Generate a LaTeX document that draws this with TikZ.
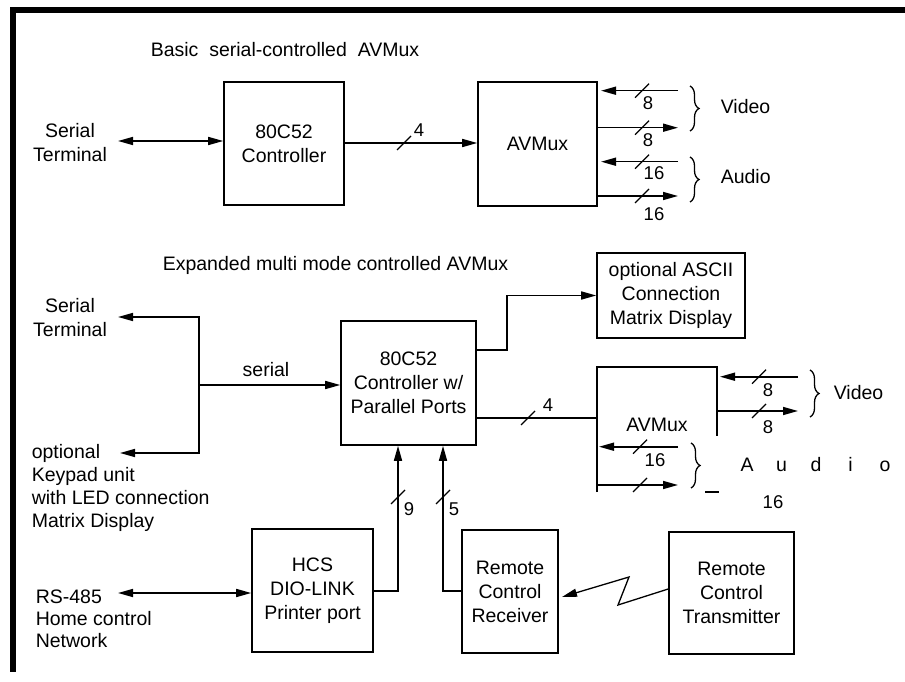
\documentclass[tikz,border=0pt]{standalone}
\usepackage{fontspec}
\setmainfont{Liberation Sans}
\usetikzlibrary{arrows.meta,decorations.pathreplacing}
\begin{document}
\begin{tikzpicture}[x=1pt,y=-1pt,
  line width=1.6pt,
  every node/.style={font=\fontsize{19.5}{24}\selectfont, inner sep=0pt},
  box/.style={draw, line width=1.6pt, align=center},
  arr/.style={-{Triangle[length=15pt,width=8pt]}},
  darr/.style={{Triangle[length=15pt,width=8pt]}-{Triangle[length=15pt,width=8pt]}},
  num/.style={font=\fontsize{18.5}{22}\selectfont},
  brc/.style={decorate, decoration={brace, amplitude=9pt}, line width=1.3pt},
  busslash/.pic={\draw[line width=1.3pt] (-7,7) -- (7,-7);}
]
\useasboundingbox (0,0) rectangle (905,682);
% frame
\fill (10,7.5) rectangle (905,13.5);
\fill (10,7.5) rectangle (16,672);

% ---------------- top section ----------------
\node[anchor=west] (t1) at (150,50) {Basic\ \ serial-controlled\ \ AVMux};
\node[align=center] (st1) at (70,143) {Serial\\Terminal};
\node[box, minimum width=120pt, minimum height=123pt] (ctrl1) at (284,143.5) {80C52\\Controller};
\node[box, minimum width=119pt, minimum height=124pt] (avm1) at (537.5,144) {AVMux};

\coordinate (st1e) at (118,141);
\draw[darr] (st1e) -- (ctrl1.west |- st1e);
\draw[arr] (ctrl1.east |- 0,143) -- (avm1.west |- 0,143);
\pic at (404,143) {busslash};
\node[num] (n4a) at (419,130) {4};

\coordinate (v1a) at (678,90.7);  \coordinate (v1ai) at (601,90.7);
\coordinate (v1b) at (678,127.7);
\coordinate (a1a) at (678,161.7); \coordinate (a1ai) at (601,161.7);
\coordinate (a1b) at (678,196);
\draw[arr] (v1a) -- (v1ai);
\draw[arr] (avm1.east |- v1b) -- (v1b);
\draw[arr] (a1a) -- (a1ai);
\draw[arr] (avm1.east |- a1b) -- (a1b);
\pic at (642,90.7) {busslash};
\pic at (642,127.7) {busslash};
\pic at (642,161.7) {busslash};
\pic at (642,196) {busslash};
\node[num] (n8a) at (648,103) {8};
\node[num] (n8b) at (648,140) {8};
\node[num] (n16a) at (654,173) {16};
\node[num] (n16b) at (654,214) {16};
\draw[brc] (690,86) -- (690,131);
\draw[brc] (690,157) -- (690,202);
\node[anchor=west] (vid1) at (720,107) {Video};
\node[anchor=west] (aud1) at (720,177) {Audio};

% ---------------- bottom section ----------------
\node[anchor=west] (t2) at (162,265) {Expanded multi mode controlled AVMux};
\node[align=center] (st2) at (70,317.5) {Serial\\Terminal};
\node[align=left, anchor=west, font=\fontsize{19.5}{23}\selectfont] (kp) at (31,487.5)
  {optional\\Keypad unit\\with LED connection\\Matrix Display};
\node[box, minimum width=135pt, minimum height=124pt] (ctrl2) at (408.5,383)
  {80C52\\Controller w/\\Parallel Ports};
\node[box, minimum width=148pt, minimum height=85pt] (ascii) at (671,295.5)
  {optional ASCII\\Connection\\Matrix Display};

\coordinate (st2e) at (118,317);
\coordinate (j1) at (199,317);
\coordinate (j2) at (199,453);
\coordinate (kpe) at (120,453);
\coordinate (j3) at (199,385);
\draw[darr] (st2e) -- (j1) -- (j2) -- (kpe);
\draw[arr] (j3) -- (ctrl2.west |- j3);
\node (ser) at (266,370) {serial};

\draw[arr] (ctrl2.east |- 0,350) -- (507,350) |- (ascii.west);

% partial AVMux box
\coordinate (a2bl) at (597,492);
\coordinate (a2tl) at (597,367);
\coordinate (a2tr) at (717,367);
\coordinate (a2br) at (717,436);
\draw (a2bl) -- (a2tl) -- (a2tr) -- (a2br);
\node (avm2) at (657,425) {AVMux};
\coordinate (a2in) at (597,418);
\draw (ctrl2.east |- a2in) -- (a2in);
\pic at (528,418) {busslash};
\node[num] (n4b) at (548,405) {4};

\coordinate (v2a) at (798,376.7); \coordinate (v2ai) at (720,376.7);
\coordinate (v2bo) at (717,411);  \coordinate (v2b) at (798,411);
\draw[arr] (v2a) -- (v2ai);
\draw[arr] (v2bo) -- (v2b);
\pic at (759,376.7) {busslash};
\pic at (759,411) {busslash};
\node[num] (n8c) at (768,390) {8};
\node[num] (n8d) at (768,427) {8};
\draw[brc] (810,370) -- (810,417);
\node[anchor=west] (vid2) at (833,393) {Video};

\coordinate (a2a) at (678,446.7); \coordinate (a2ai) at (599,446.7);
\coordinate (a2bo) at (597,485);  \coordinate (a2b) at (678,485);
\draw[arr] (a2a) -- (a2ai);
\draw[arr] (a2bo) -- (a2b);
\pic at (640,446.7) {busslash};
\pic at (640,485) {busslash};
\node[num] (n16c) at (655,460) {16};
\draw[brc] (691,443) -- (691,488);
\draw (705,492) -- (719,492);
\node (aud2) at (816,465) {\makebox[34.5pt]{A}\makebox[34.5pt]{u}\makebox[34.5pt]{d}\makebox[34.5pt]{i}\makebox[34.5pt]{o}};
\node[num] (n16d) at (773,502) {16};

% bottom row
\node[align=left, anchor=west, font=\fontsize{19.5}{22}\selectfont] (rs) at (35,618.5)
  {RS-485\\Home control\\Network};
\node[box, minimum width=121pt, minimum height=123pt] (hcs) at (312.5,590.5)
  {HCS\\DIO-LINK\\Printer port};
\node[box, minimum width=96pt, minimum height=123pt] (rcv) at (510,591.5)
  {Remote\\Control\\Receiver};
\node[box, minimum width=125pt, minimum height=122pt] (tx) at (731.5,593)
  {Remote\\Control\\Transmitter};

\coordinate (rse) at (118,593);
\draw[darr] (rse) -- (hcs.west |- rse);
\draw[arr] (hcs.east |- 0,591) -| (ctrl2.south -| 398,0);
\draw[arr] (rcv.west |- 0,591) -| (ctrl2.south -| 443,0);
\pic at (398,497) {busslash};
\pic at (443,497) {busslash};
\node[num] (n9) at (409,509) {9};
\node[num] (n5) at (454,509) {5};

\coordinate (rcvin) at (562,597);
\draw[arr, line width=1.3pt] (tx.west |- 0,589) -- (618,605) -- (629,577) -- (rcvin);
\end{tikzpicture}
\end{document}
